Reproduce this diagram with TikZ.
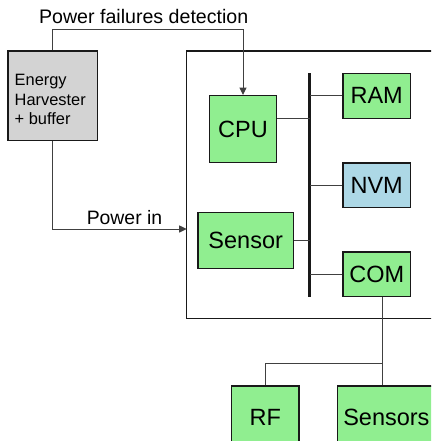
\documentclass[tikz,border=0pt]{standalone}
\usepackage{fontspec}
\setmainfont{Liberation Sans}
\usetikzlibrary{arrows.meta}
\definecolor{boxgreen}{HTML}{90EE90}
\definecolor{boxblue}{HTML}{ADD8E6}
\definecolor{boxgray}{HTML}{D3D3D3}
\begin{document}
\begin{tikzpicture}[x=1pt,y=-1pt,
  blk/.style={draw=black!90,line width=1.3pt,fill=boxgreen,inner sep=0pt,
    font=\fontsize{23.5}{26}\selectfont},
  wire/.style={draw=black!75,line width=1pt},
  arr/.style={-{Triangle[length=7.5pt,width=7pt]}}]
\useasboundingbox (0,0) rectangle (431,441);
\clip (0,0) rectangle (431,441);
% board
\draw[line width=1.2pt,black!90] (450,51) -- (186.7,51) -- (186.7,318.7) -- (450,318.7);
% energy harvester
\node[draw=black!90,line width=1.2pt,fill=boxgray,minimum width=89.7pt,minimum height=89.7pt,inner sep=0pt] (EH) at (52.8,95.8) {};
\node[anchor=base west,align=left,font=\fontsize{16.4}{19.3}\selectfont,inner sep=0pt] (EHtxt) at (14.5,124.6) {Energy\\Harvester\\+ buffer};
% blocks
\node[blk,minimum width=67.4pt,minimum height=67pt] (CPU) at (243,129.2) {CPU};
\node[blk,minimum width=67.3pt,minimum height=45pt] (RAM) at (376.7,95.8) {RAM};
\node[blk,fill=boxblue,minimum width=67.3pt,minimum height=44.3pt] (NVM) at (376.7,185.2) {NVM};
\node[blk,minimum width=67.3pt,minimum height=44.7pt] (COM) at (376.7,274.3) {COM};
\node[blk,minimum width=95.3pt,minimum height=56pt] (Sensor) at (245.7,240.7) {Sensor};
\node[blk,minimum width=67.3pt,minimum height=62pt] (RF) at (265.3,417) {RF};
\node[blk,minimum width=98pt,minimum height=62pt] (Sensors) at (386.4,417) {Sensors};
% bus
\coordinate (bustop) at (309.7,73.3);
\coordinate (busbot) at (309.7,296.7);
\draw[line width=3pt,black!90] (bustop) -- (busbot);
\coordinate (cpuport) at ([yshift=10.9pt]CPU.east);
\draw[wire] (cpuport) -- (cpuport -| bustop);
\draw[wire] (RAM.west) -- (RAM.west -| bustop);
\draw[wire] (NVM.west) -- (NVM.west -| bustop);
\draw[wire] (COM.west) -- (COM.west -| bustop);
\draw[wire] (Sensor.east) -- (Sensor.east -| bustop);
% COM to RF / Sensors
\coordinate (comport) at ([xshift=5.6pt]COM.south);
\coordinate (split) at (382.3,363.3);
\draw[wire] (comport) -- (comport |- Sensors.north);
\draw[wire] (split) -| (RF.north);
% power failure detection
\coordinate (pfd) at (52.8,29.3);
\draw[wire,arr] (EH.north) -- (pfd) -| (CPU.north);
\node[anchor=base,inner sep=0pt,font=\fontsize{19.6}{22}\selectfont] (pfdlbl) at (143.7,24) {Power failures detection};
% power in
\coordinate (pin) at (186.7,229);
\draw[wire,arr] (EH.south) |- (pin);
\node[anchor=base,inner sep=0pt,font=\fontsize{19.4}{22}\selectfont] (pinlbl) at (124.5,224) {Power in};
\end{tikzpicture}
\end{document}
